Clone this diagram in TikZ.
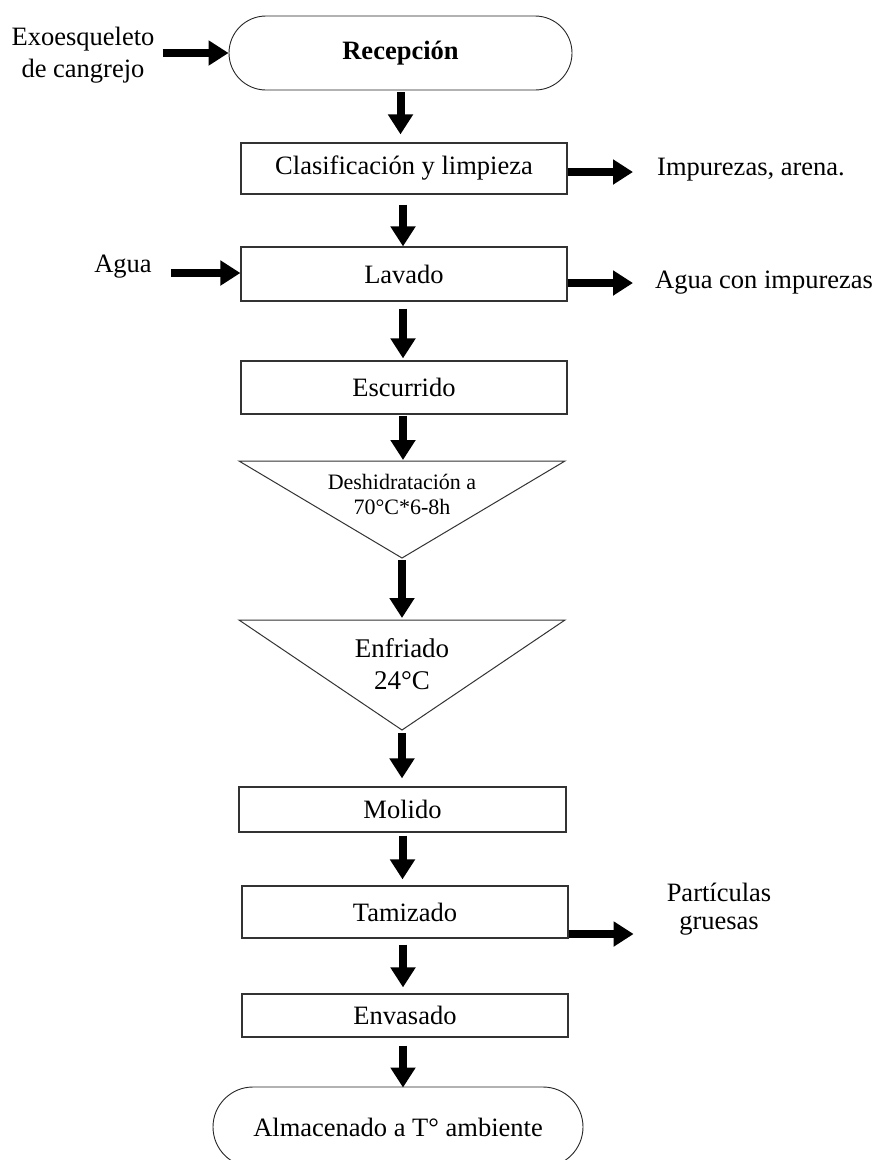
\documentclass[tikz,border=0pt]{standalone}
\usepackage{fontspec}
\setmainfont{Liberation Serif}
\usetikzlibrary{shapes.misc,arrows.meta,calc}
\begin{document}
\begin{tikzpicture}[x=1pt,y=-1pt,
  box/.style={draw=black!80,line width=1.2pt,rectangle,minimum width=326pt,minimum height=52pt,inner sep=0pt,font=\fontsize{26.5}{30}\selectfont},
  term/.style={draw=black!85,line width=0.9pt,rounded rectangle,inner sep=0pt,font=\fontsize{26.5}{30}\selectfont},
  tri/.style={draw=black!80,line width=1pt,line join=miter},
  flow/.style={line width=8pt,-{Triangle[length=20pt,width=24pt]}},
  lbl/.style={font=\fontsize{26.5}{32}\selectfont,align=center,inner sep=0pt},
]
\useasboundingbox (0,0) rectangle (882,1160);
\fill[white] (0,0) rectangle (882,1160);
\clip (0,0) rectangle (882,1160);

% inputs / outputs
\node[lbl] (exo) at (83,55) {Exoesqueleto\\de cangrejo};
\node[lbl,anchor=west] (imp) at (657,170) {Impurezas, arena.};
\node[lbl] (agua) at (123,267) {Agua};
\node[lbl,anchor=west] (aci) at (655,283) {Agua con impurezas};
\node[lbl,font=\fontsize{26.5}{28}\selectfont] (part) at (719,909) {Partículas\\gruesas};

% process steps
\node[term,minimum width=343pt,minimum height=74pt] (rec) at (400.5,53) {\textbf{Recepción}};
\node[box,minimum height=51pt] (clas) at (404,168.5) {Clasificación y limpieza};
\node[box,minimum height=54pt] (lav) at (404,274) {Lavado};
\node[box,minimum height=53pt] (esc) at (404,387.5) {Escurrido};

\coordinate (t1l) at (239,461);
\coordinate (t1r) at (565,461);
\coordinate (t1a) at (402,558);
\draw[tri] (t1l) -- (t1r) -- (t1a) -- cycle;
\node[lbl,font=\fontsize{22}{25}\selectfont] (desh) at (402,494.5) {Deshidratación a\\70°C*6-8h};

\coordinate (t2l) at (239,620);
\coordinate (t2r) at (565,620);
\coordinate (t2a) at (402,730);
\draw[tri] (t2l) -- (t2r) -- (t2a) -- cycle;
\node[lbl,font=\fontsize{27}{32}\selectfont] (enf) at (402,664) {Enfriado\\24°C};

\node[box,minimum width=327pt,minimum height=45pt] (mol) at (402.5,809.5) {Molido};
\node[box,minimum height=52pt] (tam) at (405,912) {Tamizado};
\node[box,minimum height=43pt] (env) at (405,1015.5) {Envasado};
\node[term,minimum width=370pt,minimum height=80pt] (alm) at (398,1127) {Almacenado a T° ambiente};

% main flow
\draw[flow] ($(rec.south)+(0,2)$) -- ($(rec.south |- clas.north)+(0,-8)$);
\draw[flow] ($(clas.south)+(-1,10)$) -- ($(clas.north |- lav.north)+(-1,0)$);
\draw[flow] ($(lav.south)+(-1,7)$) -- ($(lav.south |- esc.north)+(-1,-2)$);
\draw[flow] ($(esc.south)+(-1,1)$) -- ($(esc.south |- t1l)+(-1,-1)$);
\draw[flow] ($(t1a)+(0,2)$) -- ($(t1a |- t2l)+(0,-2)$);
\draw[flow] ($(t2a)+(0,3)$) -- ($(t2a |- mol.north)+(0,-8)$);
\draw[flow] ($(mol.south)+(0,3)$) -- ($(mol.south |- tam.north)+(0,-6)$);
\draw[flow] ($(tam.south)+(-2,6)$) -- ($(tam.south |- env.north)+(-2,-6)$);
\draw[flow] ($(env.south)+(-2,8)$) -- ($(env.south |- alm.north)+(-2,1)$);

% side flows
\draw[flow] ($(rec.west)+(-66,0)$) -- (rec.west);
\draw[flow] ($(clas.east)+(0,3.5)$) -- ($(imp.west)+(-24,2)$);
\draw[flow] ($(agua.east)+(19,6)$) -- ($(lav.west)+(0,-1)$);
\draw[flow] ($(lav.east)+(0,9)$) -- ($(aci.west)+(-22,0)$);
\coordinate (partin) at ($(tam.east)+(65,22)$);
\draw[flow] ($(tam.east)+(0,22)$) -- (partin);
\end{tikzpicture}
\end{document}
